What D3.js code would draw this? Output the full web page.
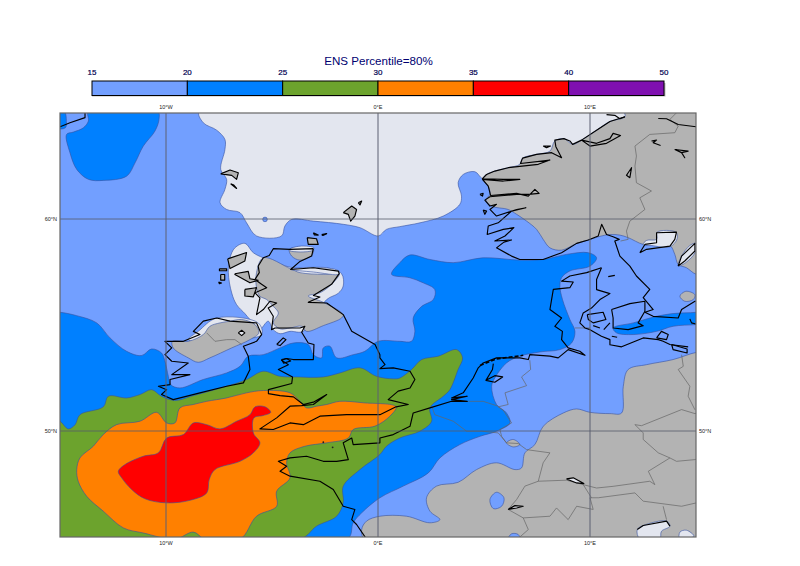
<!DOCTYPE html>
<html>
<head>
<meta charset="utf-8">
<script src="https://cdn.jsdelivr.net/npm/d3@7"></script>
<style>
body { margin: 0; background: #fff; }
text { font-family: "Liberation Sans", Arial, sans-serif; }
</style>
</head>
<body>
<svg id="chart" width="800" height="566"></svg>
<script>
// legend
var levels = [15, 20, 25, 30, 35, 40, 50];
var levelColors = ["#729fff", "#0080ff", "#6ca32d", "#ff8000", "#ff0000", "#7f10b0"];
var lonTicks = [-10, 0, 10], lonLabels = ["10°W", "0°E", "10°E"];
var latTicks = [60, 50], latLabels = ["60°N", "50°N"];

// contour bands, lon/lat
var paleNorth = [[-8.43,65.09],[-8.24,64.54],[-7.61,64.19],[-7.22,63.75],[-7.22,63.28],[-7.42,62.34],[-7.14,61.87],[-7.22,61.40],[-7.45,60.77],[-7.14,60.45],[-6.51,60.30],[-6.20,59.82],[-5.73,59.20],[-4.55,59.20],[-4.39,59.67],[-4.07,59.98],[-3.05,59.90],[-1.64,59.75],[-.85,59.59],[.01,59.20],[.40,59.51],[1.03,59.64],[1.98,59.82],[3.08,60.14],[3.86,60.69],[3.94,61.08],[3.78,61.71],[4.02,62.10],[4.57,62.23],[4.96,61.87],[8.0,60.61],[15.81,62],[15.81,65.09]];
var paleScotland = [[-6.98,58.17],[-6.75,58.64],[-6.28,58.85],[-5.88,58.41],[-5.41,58.17],[-4.0,57.7],[-2.42,57.7],[-1.72,57.42],[-1.64,56.84],[-1.87,56.5],[-2.42,56.20],[-3.52,54.70],[-4.15,54.70],[-4.62,54.59],[-4.94,54.78],[-5.18,55.18],[-5.57,54.78],[-5.65,54.94],[-6.04,55.26],[-6.28,55.54],[-6.67,55.96],[-6.90,56.51],[-7.06,57.47]];
var paleIreland = [[-8.95,54.31],[-8.48,54.70],[-7.61,55.33],[-5.65,55.10],[-5.49,54.55],[-7.14,54.3],[-8.08,54.2]];
var paleLensNorth = [[-4.18,58.57],[-3.68,58.72],[-3.02,58.64],[-3.13,58.5],[-4.15,58.5]];
var paleMoray = [[-4.12,57.62],[-3.05,57.72],[-1.87,57.56],[-1.83,57.40],[-3.05,57.5]];
var paleSweden = [[12.51,58.80],[12.67,58.99],[13.14,59.04],[13.17,59.38],[14.05,59.38],[14.11,59.07],[13.77,58.69],[12.90,58.75]];
var paleVanern = [[14.16,57.78],[14.32,58.25],[14.71,58.75],[14.99,58.85],[14.95,58.41],[14.55,57.97]];
var paleAdriatic = [[12.23,45.35],[12.51,45.54],[13.61,45.75],[13.77,45.51],[13.37,45.27],[13.29,44.9],[12.35,44.9]];
var paleAdriatic2 = [[14.24,45.23],[14.55,45.32],[14.90,45.04],[14.24,44.9]];

var greyNorway = [[11.65,65.09],[11.65,64.82],[10.94,64.60],[10.31,64.19],[9.60,63.72],[9.18,63.52],[8.77,63.79],[8.34,63.68],[8.11,63.20],[7.48,63.05],[6.82,62.87],[6.69,62.58],[6.14,62.42],[5.51,62.26],[5.12,62.10],[4.93,61.87],[5.20,61.55],[5.28,61.16],[5.09,60.92],[5.36,60.61],[6.14,60.45],[6.54,60.22],[7.01,59.90],[7.48,59.51],[7.79,59.04],[8.11,58.64],[8.66,58.53],[9.37,58.85],[9.92,59.01],[10.39,59.16],[10.94,59.27],[11.41,59.24],[11.80,59.12],[12.51,58.80],[13.14,58.75],[13.77,58.75],[14.0,58.33],[14.16,57.86],[14.55,57.70],[15.02,57.39],[15.81,57.39],[15.81,65.09]];
var greyContinent = [[15.81,53.76],[15.02,53.71],[13.92,53.37],[12.67,53.13],[11.80,52.90],[11.57,52.11],[11.49,50.85],[10.94,50.82],[10.0,50.88],[9.37,51.04],[8.74,50.85],[7.79,50.22],[7.40,49.36],[6.93,48.97],[6.77,48.26],[6.46,48.18],[5.59,48.50],[4.65,48.18],[3.78,47.58],[2.76,47.40],[2.29,46.85],[2.45,46.22],[2.92,45.82],[2.45,45.67],[1.35,45.98],[.09,45.98],[-.54,45.75],[-.77,45.35],[-.62,44.9],[15.81,44.9]];
var greyIreland = [[-9.70,54.23],[-8.95,54.23],[-8.24,54.55],[-7.93,54.94],[-7.45,55.10],[-6.98,55.18],[-6.43,55.26],[-5.80,55.02],[-5.62,54.63],[-6.04,54.31],[-6.90,53.92],[-7.93,53.45],[-8.48,53.24],[-8.95,53.45],[-9.66,53.92]];
var greyScotland = [[-5.41,58.17],[-4.12,57.65],[-3.68,57.47],[-2.58,57.39],[-1.83,57.42],[-2.19,56.92],[-2.74,56.52],[-3.29,56.37],[-2.58,56.07],[-1.64,55.49],[-1.72,55.33],[-2.58,54.97],[-3.37,54.70],[-3.60,54.94],[-4.15,54.86],[-4.62,54.82],[-4.94,55.10],[-4.70,55.57],[-4.94,55.88],[-5.25,56.20],[-5.57,56.36],[-5.73,56.76],[-5.73,57.47]];
var greyLensNorth = [[-4.18,58.57],[-3.05,58.60],[-3.13,58.28],[-3.68,58.06],[-4.07,58.25]];
var greyLux = [[6.06,49.44],[6.38,49.60],[6.69,49.36],[6.38,49.25]];
var greyBornholm = [[14.24,56.36],[14.52,56.59],[14.95,56.43],[14.87,56.20],[14.47,56.12]];

var blueNW = [[-13.66,65.09],[-13.66,64.62],[-13.90,64.30],[-14.37,64.10],[-14.69,63.99],[-14.53,63.13],[-14.21,62.34],[-13.66,61.87],[-12.96,61.82],[-11.86,62.02],[-11.46,62.65],[-11.07,63.44],[-10.52,64.15],[-10.33,64.70],[-10.39,65.09]];
var blueCorner = [[-15.2,65.1],[-14.8,65.1],[-14.7,64.6],[-14.75,64.3],[-15.2,64.3]];
var blueMain = [[-15.31,55.6],[-15,55.60],[-14.21,55.44],[-13.27,55.10],[-12.64,54.39],[-11.86,53.76],[-11.15,53.56],[-10.68,53.87],[-10.21,53.68],[-10.05,53.29],[-9.89,52.58],[-9.78,52.19],[-9.34,52.03],[-8.24,52.43],[-7.14,52.74],[-6.51,53.05],[-6.12,53.53],[-5.41,53.60],[-4.62,53.92],[-4.0,54.15],[-3.29,54.08],[-3.05,53.60],[-2.66,53.45],[-2.58,53.92],[-2.27,54.0],[-1.95,53.45],[-1.17,53.60],[-.62,53.76],[.01,54.23],[1.03,54.23],[1.58,54.23],[1.74,54.70],[1.66,55.33],[2.06,55.88],[2.61,56.20],[2.68,56.67],[2.13,56.99],[1.50,57.23],[.64,57.39],[1.03,57.94],[1.50,58.30],[2.45,58.09],[3.55,57.94],[4.96,58.17],[6.69,58.06],[7.79,58.09],[8.89,58.33],[9.92,58.41],[10.31,58.17],[10.0,57.78],[9.05,57.55],[8.66,57.23],[8.58,56.84],[8.70,56.21],[9.05,55.26],[9.29,54.70],[9.13,54.15],[8.58,53.84],[7.64,53.73],[6.69,53.53],[6.06,53.21],[5.51,52.50],[5.36,52.11],[5.59,51.25],[6.06,50.85],[6.22,50.38],[5.59,49.99],[4.81,49.75],[3.86,49.36],[2.92,48.73],[2.37,48.02],[1.19,47.40],[.09,46.85],[-.77,46.14],[-1.17,45.67],[-1.45,44.9],[-15.31,44.9]];
var blueBaltic = [[11.09,54.86],[12.04,55.10],[13.14,55.41],[13.92,55.54],[15.02,55.60],[15.81,55.73],[15.81,55.10],[15.02,55.02],[13.92,54.94],[13.14,54.70],[12.04,54.55],[11.25,54.63]];
var green = [[-15.31,50.51],[-15,50.46],[-14.61,50.10],[-14.29,50.30],[-14.06,50.77],[-12.96,51.14],[-12.72,51.64],[-11.86,51.56],[-11.23,51.72],[-10.68,51.95],[-10.21,51.64],[-9.58,51.44],[-8.71,51.67],[-7.14,52.11],[-6.20,52.43],[-5.41,52.82],[-4.62,52.58],[-3.84,52.55],[-2.58,52.55],[-1.80,52.74],[-.85,52.98],[-.07,52.58],[.72,52.46],[1.03,52.50],[1.58,52.90],[2.06,53.37],[2.84,53.53],[3.71,53.84],[3.99,53.45],[3.78,52.90],[3.39,51.95],[3.08,51.64],[2.45,51.09],[2.53,50.46],[1.98,49.99],[1.03,49.67],[.40,49.28],[.09,48.89],[-.85,48.18],[-1.64,47.39],[-1.64,46.61],[-1.95,45.98],[-2.90,45.51],[-3.68,44.9],[-15.31,44.9]];
var orange = [[-14.21,48.18],[-14.06,48.73],[-13.43,49.28],[-12.96,49.83],[-12.33,50.30],[-11.23,50.46],[-10.44,50.88],[-9.97,50.38],[-9.58,50.38],[-9.34,51.09],[-8.71,51.25],[-8.08,51.40],[-7.14,51.56],[-6.20,51.80],[-5.41,51.91],[-4.15,51.80],[-3.68,51.40],[-3.37,51.09],[-2.90,51.17],[-2.42,51.25],[-1.80,51.40],[-.69,51.33],[.85,51.14],[.56,50.70],[-.14,50.23],[-1.17,50.07],[-1.40,49.67],[-2.42,49.44],[-3.45,49.28],[-4.15,48.97],[-4.31,48.50],[-4.15,47.79],[-4.78,47.16],[-4.78,46.45],[-5.73,45.98],[-6.51,44.9],[-8.16,44.9],[-8.71,45.23],[-9.58,44.9],[-11.07,45.19],[-12.01,45.43],[-12.96,46.22],[-13.74,46.92],[-14.14,47.63]];
var red = [[-12.25,48.10],[-11.93,48.42],[-11.07,48.81],[-10.36,48.97],[-9.97,49.67],[-9.18,49.83],[-8.71,50.38],[-8.08,50.30],[-7.45,50.10],[-6.67,50.46],[-6.04,50.77],[-5.80,51.14],[-5.33,51.14],[-5.06,50.88],[-5.41,50.73],[-5.85,50.62],[-5.88,49.91],[-5.57,49.44],[-5.88,48.97],[-6.51,48.57],[-7.69,48.18],[-7.96,47.71],[-8.08,47.08],[-8.87,46.73],[-9.97,46.61],[-10.99,46.80],[-11.62,47.24],[-12.09,47.79]];
var lightAlps = [[5.28,46.77],[5.59,47.11],[5.94,46.85],[5.83,46.45],[5.44,46.34]];
var lightAlps2 = [[6.14,44.9],[6.30,45.15],[6.61,45.12],[6.69,44.9]];

// islands and closed shores, grey inside
var isleLewis = [[-7.09,58.12],[-6.20,58.42],[-6.28,58.02],[-6.98,57.66]];
var isleSkye = [[-6.75,57.42],[-6.12,57.53],[-6.04,57.18],[-5.65,57.11],[-6.04,56.99],[-6.75,57.38]];
var isleMull = [[-6.28,56.68],[-5.73,56.76],[-5.88,56.33],[-6.28,56.37]];
var isleUist = [[-7.48,57.65],[-7.14,57.65],[-7.14,57.56],[-7.48,57.56]];
var isleUist2 = [[-7.42,57.38],[-7.23,57.38],[-7.23,57.12],[-7.42,57.12]];
var isleBarra = [[-7.52,57.03],[-7.38,56.98],[-7.48,56.95]];
var isleOrkney = [[-3.34,59.12],[-2.90,59.07],[-2.82,58.80],[-3.29,58.80]];
var isleOrkney2 = [[-3.05,59.35],[-2.82,59.24],[-3.0,59.25]];
var isleOrkney3 = [[-2.66,59.27],[-2.42,59.31],[-2.6,59.22]];
var isleShetland = [[-1.64,60.30],[-1.24,60.61],[-1.01,60.45],[-1.09,60.14],[-1.29,59.90],[-1.40,60.22]];
var isleShetland2 = [[-.93,60.77],[-.77,60.85],[-.85,60.66]];
var isleFaroe = [[-7.42,62.13],[-6.98,62.31],[-6.59,62.18],[-6.67,61.87],[-6.90,62.06]];
var isleFaroe2 = [[-6.95,61.66],[-6.67,61.44],[-6.8,61.6]];

// coastlines
var coastNorway = [[11.65,64.82],[10.94,64.60],[10.31,64.19],[9.60,63.72],[10.0,63.44],[10.78,63.57],[11.44,63.94],[11.09,64.04],[10.94,63.79],[10.31,63.57],[9.60,63.72],[9.18,63.52],[9.05,63.68],[8.77,63.79],[8.34,63.72],[8.39,63.41],[8.66,62.89],[8.19,63.13],[7.48,63.05],[6.82,62.87],[6.72,62.62],[8.11,62.78],[7.56,62.58],[6.14,62.42],[5.51,62.26],[5.12,62.10],[4.93,61.90],[5.91,61.87],[6.69,61.87],[5.91,61.79],[4.93,61.87],[5.20,61.55],[5.31,61.11],[6.54,61.21],[7.09,61.08],[7.40,61.40],[7.60,61.21],[7.09,61.16],[6.54,61.16],[5.28,61.05],[5.04,60.89],[5.28,60.61],[5.59,60.69],[5.28,60.45],[5.59,60.14],[6.54,60.45],[6.98,60.53],[6.30,60.37],[5.67,59.82],[5.20,59.67],[5.15,59.27],[5.91,59.51],[6.41,59.59],[5.99,59.20],[5.51,58.96],[6.30,59.01],[5.94,58.91],[5.59,58.64],[6.30,58.25],[6.69,58.09],[7.79,58.09],[8.66,58.41],[9.37,58.85],[9.92,59.01],[10.39,59.20],[10.55,59.75],[10.78,59.27],[11.09,59.16],[11.38,59.04],[11.17,58.96],[11.41,58.25],[11.88,57.78],[12.19,57.31],[12.82,56.68],[12.51,56.29],[12.98,55.73],[12.59,55.60],[12.98,55.41],[14.16,55.33],[14.32,55.73],[14.95,56.12],[15.81,56.3]];
var coastSwedenLake = [[12.35,58.41],[12.59,58.80],[13.14,58.88],[13.14,59.35],[14.08,59.38],[14.0,59.04],[13.77,58.72],[12.67,58.57],[12.35,58.41]];
var coastVanern = [[14.16,57.78],[14.32,58.25],[14.95,58.85],[14.95,58.49],[14.47,58.02],[14.16,57.78]];
var coastLofoten = [[13.22,64.74],[13.61,64.73],[14.16,64.46],[15.02,64.35]];
var coastHitra = [[10.78,64.92],[11.17,64.89],[11.41,64.73],[11.65,64.82]];
var lakeNor1 = [[12.90,63.68],[13.14,63.72],[12.98,63.60],[13.33,63.47]];
var lakeNor2 = [[14.0,63.28],[14.63,63.20],[14.32,63.13],[14.47,62.89],[14.32,63.13],[14.0,63.28]];
var lakeNor3 = [[11.80,62.18],[11.96,62.42],[11.88,61.95],[11.72,62.06],[11.80,62.18]];
var isleNor1 = [[7.79,63.44],[8.14,63.44],[7.95,63.36],[7.79,63.44]];
var isleNor2 = [[4.81,61.16],[4.96,61.21],[4.93,61.08],[4.81,61.16]];
var isleNor3 = [[4.96,60.42],[5.12,60.37],[5.04,60.22],[4.96,60.42]];
var coastNorthSea = [[10.54,57.70],[9.84,57.47],[9.05,57.31],[8.66,57.07],[9.21,57.03],[9.05,56.76],[8.27,56.68],[8.19,56.21],[8.11,55.73],[8.66,55.33],[8.34,54.94],[8.70,54.70],[8.66,54.31],[8.97,53.92],[9.52,53.76],[9.76,53.57],[8.97,53.84],[8.50,53.45],[8.11,53.53],[7.16,53.60],[7.09,53.37],[6.69,53.45],[6.30,53.45],[5.59,53.45],[4.96,53.21],[4.73,52.98],[4.49,52.50],[4.02,51.80],[3.47,51.56],[4.21,51.64],[3.47,51.48],[4.21,51.40],[3.47,51.40],[2.45,51.09],[1.66,50.85],[1.51,50.22],[.72,49.83],[.09,49.67],[.09,49.44],[-1.17,49.36],[-1.24,49.67],[-1.64,49.44],[-1.40,48.65],[-1.95,48.57],[-2.58,48.57],[-3.37,48.81],[-4.15,48.73],[-4.70,48.57],[-4.31,48.34],[-4.62,48.10],[-4.15,47.87],[-2.74,47.63],[-2.11,47.24],[-1.64,46.45],[-1.09,46.30],[-1.24,45.82],[-1.01,45.59],[-.54,44.9]];
var coastFrisian = [[4.81,53.09],[5.59,53.40],[6.85,53.57]];
var coastIjssel = [[5.44,53.18],[5.40,52.90],[5.09,52.39],[5.51,52.30],[5.88,52.55],[5.51,52.61],[5.09,52.39]];
var coastBritain = [[-3.05,58.60],[-4.15,58.57],[-4.94,58.60],[-5.13,58.28],[-5.41,58.17],[-5.65,57.78],[-5.60,57.47],[-5.80,57.15],[-5.49,56.92],[-5.25,56.76],[-5.80,56.52],[-5.57,56.28],[-5.65,55.88],[-5.73,55.49],[-5.41,55.73],[-5.10,56.12],[-4.78,56.04],[-5.18,55.80],[-4.94,55.41],[-5.02,54.78],[-4.86,54.86],[-3.68,54.86],[-3.45,54.94],[-3.60,54.66],[-3.29,54.15],[-3.02,54.08],[-3.05,53.37],[-4.0,53.37],[-4.31,53.42],[-4.55,53.34],[-4.23,53.13],[-4.70,52.90],[-4.03,52.55],[-4.07,52.24],[-5.17,51.95],[-5.17,51.76],[-4.62,51.67],[-3.99,51.61],[-3.52,51.25],[-3.05,51.36],[-2.42,51.72],[-3.05,51.25],[-3.60,51.20],[-4.15,51.17],[-4.78,50.62],[-5.57,50.10],[-4.94,50.07],[-4.15,50.38],[-3.52,50.30],[-2.74,50.70],[-1.48,50.77],[.09,50.77],[.85,51.14],[1.43,51.25],[.48,51.48],[.95,51.88],[1.51,52.03],[1.74,52.43],[1.51,52.82],[.72,52.98],[.09,52.94],[.33,53.13],[.09,53.45],[.09,53.60],[-.14,54.08],[-1.24,54.70],[-1.64,55.49],[-2.42,56.04],[-3.29,56.07],[-2.74,56.32],[-3.05,56.39],[-2.19,56.92],[-1.83,57.42],[-1.87,57.54],[-3.05,57.70],[-4.12,57.62],[-3.68,58.0],[-3.13,58.25],[-3.05,58.60]];
var coastIreland = [[-7.61,55.33],[-8.24,55.18],[-8.71,54.70],[-8.40,54.55],[-9.18,54.23],[-10.05,54.23],[-9.73,53.92],[-10.05,53.60],[-9.73,53.29],[-8.95,53.21],[-9.73,52.66],[-8.87,52.66],[-9.81,52.43],[-9.81,52.19],[-10.36,52.11],[-9.97,51.95],[-10.21,51.72],[-9.66,51.48],[-8.40,51.80],[-7.14,52.11],[-6.35,52.27],[-6.04,52.90],[-6.12,53.53],[-6.35,54.0],[-5.73,54.23],[-5.49,54.55],[-5.73,55.10],[-6.98,55.18],[-7.61,55.33]];
var isleMan = [[-4.78,54.08],[-4.47,54.39],[-4.34,54.31],[-4.62,54.03],[-4.78,54.08]];
var isleAnglesey = [[-4.55,53.37],[-4.31,53.42],[-4.12,53.30],[-4.45,53.20],[-4.55,53.37]];
var lakeNeagh = [[-6.59,54.63],[-6.43,54.75],[-6.28,54.63],[-6.43,54.50],[-6.59,54.63]];
var coastIceland = [[-15,64.35],[-14.53,64.54],[-13.82,64.78],[-13.82,65.0]];
var coastJutlandEast = [[10.54,57.70],[10.31,57.15],[10.31,56.67],[10.94,56.48],[10.47,56.20],[10.07,55.80],[9.68,55.57],[9.52,55.10],[9.76,54.86],[10.0,54.78],[10.54,54.47],[10.94,54.31],[10.94,54.07],[11.49,53.97],[12.51,54.39],[13.22,54.31],[13.45,54.23],[13.77,54.08],[14.63,53.97]];
var isleFunen = [[9.87,55.49],[10.62,55.60],[10.75,55.26],[10.15,55.10],[9.92,55.26],[9.87,55.49]];
var isleZealand = [[11.02,55.73],[11.88,56.01],[12.59,56.12],[12.59,55.65],[12.27,55.10],[12.51,54.97],[11.80,54.78],[11.09,54.86],[11.09,55.33],[11.02,55.73]];
var isleLangeland = [[10.15,54.97],[10.47,54.86]];
var isleLaeso = [[10.65,54.78],[10.94,55.10]];
var isleFalster = [[11.03,54.47],[11.28,54.42]];
var isleAnholt = [[10.86,57.28],[11.17,57.34]];
var isleRugen = [[13.14,54.39],[13.37,54.70],[13.69,54.55],[13.61,54.31],[13.14,54.39]];
var lagoonOder = [[13.85,54.08],[14.58,53.87],[14.58,53.68],[13.92,53.84],[13.85,54.08]];
var coastPoland = [[14.71,55.29],[14.79,55.10],[14.99,55.05]];
var lakeConstance = [[8.89,47.74],[9.21,47.79],[9.71,47.52],[9.37,47.55],[8.89,47.74]];
var lakeGeneva = [[6.14,46.30],[6.46,46.48],[6.85,46.45],[6.54,46.37],[6.14,46.30]];
var coastAdriatic = [[12.23,45.35],[12.51,45.54],[13.61,45.75],[13.77,45.51]];
var channelIsles = [[-2.58,49.47],[-2.14,49.23]];

// borders
var borderNorSwe = [[14.16,65.09],[13.77,64.70],[14.16,64.38],[14.0,64.07],[12.82,63.99],[12.12,63.44],[12.19,62.97],[12.12,62.50],[12.19,61.71],[12.90,61.32],[12.35,61.0],[12.59,60.45],[11.88,59.90],[11.72,59.43],[11.80,59.04],[11.44,58.96]];
var borderUlster = [[-8.08,54.63],[-7.69,54.23],[-7.14,54.31],[-6.75,54.31],[-6.43,54.08]];
var borderDenGer = [[9.29,54.86],[10.0,54.86]];
var borderNlGer = [[7.16,53.34],[7.20,52.90],[6.77,52.55],[7.01,52.14],[5.99,51.80],[6.14,51.25],[5.67,51.14],[5.91,50.98],[6.30,50.38]];
var borderBeNl = [[4.26,51.40],[4.96,51.40],[5.67,51.17]];
var borderFrBe = [[2.53,51.17],[2.68,50.77],[3.55,50.46],[4.18,49.99],[4.88,49.99],[5.67,49.91],[6.06,49.44],[6.61,49.41],[7.01,49.12]];
var borderBeGer = [[6.30,50.38],[5.75,50.07],[5.83,49.75],[6.06,49.44]];
var borderFrGer = [[7.01,49.12],[8.11,48.97],[7.79,48.50],[7.56,47.63]];
var borderFrCh = [[7.56,47.63],[6.93,47.40],[6.54,46.77],[6.14,46.30],[6.85,45.90],[7.09,45.35],[6.69,45.0]];
var borderChIt = [[6.85,45.90],[8.11,45.98],[8.42,46.37],[8.97,45.82],[9.37,46.45],[10.15,46.30],[10.0,46.85],[10.39,46.85]];
var borderGerCh = [[7.56,47.63],[8.89,47.68],[9.68,47.47],[10.07,46.85]];
var borderGerAt = [[9.68,47.47],[10.31,47.31],[11.09,47.39],[12.82,47.63],[13.06,47.47],[12.75,48.10],[13.77,48.73],[14.08,48.57],[14.95,48.65],[15.81,48.89]];
var borderAtIt = [[10.39,46.85],[12.12,47.08],[12.51,46.69],[14.32,46.45],[15.02,46.61]];
var borderItSi = [[13.45,46.45],[13.61,45.82]];
var borderGerCz = [[13.77,48.73],[13.22,48.97],[12.51,49.60],[12.51,49.91],[12.12,50.30],[12.43,50.25],[14.32,51.01],[14.95,50.82],[15.81,51.0]];
var borderGerPl = [[14.32,53.60],[14.40,53.05],[14.16,52.90],[14.71,52.11],[14.63,51.64],[14.95,51.0]];

var lon = d3.scaleLinear().domain([-15, 15]).range([60, 696]);
var lat = d3.scaleLinear().domain([45, 65]).range([537, 113]);
var smooth = d3.line().x(function (d) { return lon(d[0]); }).y(function (d) { return lat(d[1]); }).curve(d3.curveCatmullRomClosed.alpha(0.5));
var open = d3.line().x(function (d) { return lon(d[0]); }).y(function (d) { return lat(d[1]); });

var svg = d3.select("#chart");
var PALE = "#e3e6ef", GREY = "#b3b3b3", EDGE = "#35509f";

// title and legend
svg.append("text").attr("x", 378.5).attr("y", 65).attr("text-anchor", "middle").attr("font-size", 11.6).attr("fill", "#000070").text("ENS Percentile=80%");
var legendX = d3.scalePoint().domain(levels).range([92, 664]);
svg.append("rect").attr("x", 92).attr("y", 83).attr("width", 573.5).attr("height", 13.5).attr("fill", "#bbb");
svg.selectAll("rect.band").data(levelColors).enter().append("rect").attr("class", "band")
    .attr("x", function (d, i) { return legendX(levels[i]); })
    .attr("y", 81)
    .attr("width", function (d, i) { return legendX(levels[i + 1]) - legendX(levels[i]); })
    .attr("height", 14.5)
    .attr("fill", function (d) { return d; })
    .attr("stroke", "#000").attr("stroke-width", 1);
svg.selectAll("text.level").data(levels).enter().append("text").attr("class", "level")
    .attr("x", function (d) { return legendX(d); }).attr("y", 75)
    .attr("text-anchor", "middle").attr("font-size", 8).attr("fill", "#000050")
    .attr("stroke", "#000050").attr("stroke-width", 0.2)
    .text(function (d) { return d; });

// map
svg.append("clipPath").attr("id", "frame").append("rect").attr("x", 60).attr("y", 113).attr("width", 636).attr("height", 424);
var map = svg.append("g").attr("clip-path", "url(#frame)");
map.append("rect").attr("x", 60).attr("y", 113).attr("width", 636).attr("height", 424).attr("fill", levelColors[0]);

function band(poly, fill) {
    map.append("path").attr("d", smooth(poly)).attr("fill", fill).attr("stroke", EDGE).attr("stroke-width", 0.6);
}
function shore(poly, width, fill) {
    map.append("path").attr("d", open(poly)).attr("fill", fill || "none").attr("stroke", "#000").attr("stroke-width", width || 1).attr("stroke-linejoin", "round");
}
function border(poly) {
    map.append("path").attr("d", open(poly)).attr("fill", "none").attr("stroke", "#666").attr("stroke-width", 0.7);
}

[paleNorth, paleScotland, paleIreland].forEach(function (p) { band(p, PALE); });
[greyNorway, greyContinent, greyIreland, greyScotland, greyLensNorth, greyLux, greyBornholm].forEach(function (p) { band(p, GREY); });
[paleLensNorth, paleMoray, paleSweden, paleVanern, paleAdriatic, paleAdriatic2].forEach(function (p) { band(p, PALE); });
[lightAlps, lightAlps2].forEach(function (p) { band(p, levelColors[0]); });
[blueNW, blueCorner, blueMain, blueBaltic].forEach(function (p) { band(p, levelColors[1]); });
band(green, levelColors[2]);
band(orange, levelColors[3]);
band(red, levelColors[4]);
map.append("circle").attr("cx", lon(-5.33)).attr("cy", lat(59.98)).attr("r", 2.3).attr("fill", levelColors[0]).attr("stroke", EDGE).attr("stroke-width", 0.6);

[borderNorSwe, borderUlster, borderDenGer, borderNlGer, borderBeNl, borderFrBe, borderBeGer, borderFrGer, borderFrCh, borderChIt, borderGerCh, borderGerAt, borderAtIt, borderItSi, borderGerCz, borderGerPl].forEach(border);
[coastNorway, coastSwedenLake, coastVanern, coastLofoten, coastHitra, coastNorthSea, coastIjssel, coastBritain, coastIreland, coastIceland, coastJutlandEast, coastPoland, coastAdriatic, isleLangeland, isleLaeso, isleFalster, isleAnholt, lakeNor1, lakeNor2, lakeNor3, isleNor1, isleNor2, isleNor3, isleMan, isleAnglesey, isleFunen, isleZealand, isleRugen, lagoonOder].forEach(function (p) { shore(p, 1.15); });
[isleLewis, isleSkye, isleMull, isleUist, isleUist2, isleBarra, isleOrkney, isleOrkney2, isleOrkney3, isleShetland, isleShetland2, isleFaroe, isleFaroe2].forEach(function (p) { shore(p.concat([p[0]]), 1.15, GREY); });
[lakeNeagh, lakeConstance, lakeGeneva].forEach(function (p) { shore(p, 1.15, PALE); });
map.append("path").attr("d", open(coastFrisian)).attr("fill", "none").attr("stroke", "#000").attr("stroke-width", 1.6).attr("stroke-dasharray", "4 2");
map.selectAll("circle.channel").data(channelIsles).enter().append("circle").attr("class", "channel")
    .attr("cx", function (d) { return lon(d[0]); }).attr("cy", function (d) { return lat(d[1]); })
    .attr("r", 0.9).attr("fill", "#222");

// graticule
lonTicks.forEach(function (d) {
    map.append("line").attr("x1", lon(d)).attr("x2", lon(d)).attr("y1", 113).attr("y2", 537).attr("stroke", "#5c6172").attr("stroke-width", 1);
});
latTicks.forEach(function (d) {
    map.append("line").attr("y1", lat(d)).attr("y2", lat(d)).attr("x1", 60).attr("x2", 696).attr("stroke", "#555a6a").attr("stroke-width", 0.8);
});
svg.append("rect").attr("x", 60).attr("y", 113).attr("width", 636).attr("height", 424).attr("fill", "none").attr("stroke", "#666").attr("stroke-width", 1.2);

lonTicks.forEach(function (d, i) {
    [109, 545].forEach(function (y) {
        svg.append("text").attr("x", lon(d)).attr("y", y).attr("text-anchor", "middle").attr("font-size", 5.5).attr("fill", "#222").text(lonLabels[i]);
    });
});
latTicks.forEach(function (d, i) {
    svg.append("text").attr("x", 57).attr("y", lat(d) + 2).attr("text-anchor", "end").attr("font-size", 5.5).attr("fill", "#222").text(latLabels[i]);
    svg.append("text").attr("x", 699).attr("y", lat(d) + 2).attr("text-anchor", "start").attr("font-size", 5.5).attr("fill", "#222").text(latLabels[i]);
});
</script>
</body>
</html>
